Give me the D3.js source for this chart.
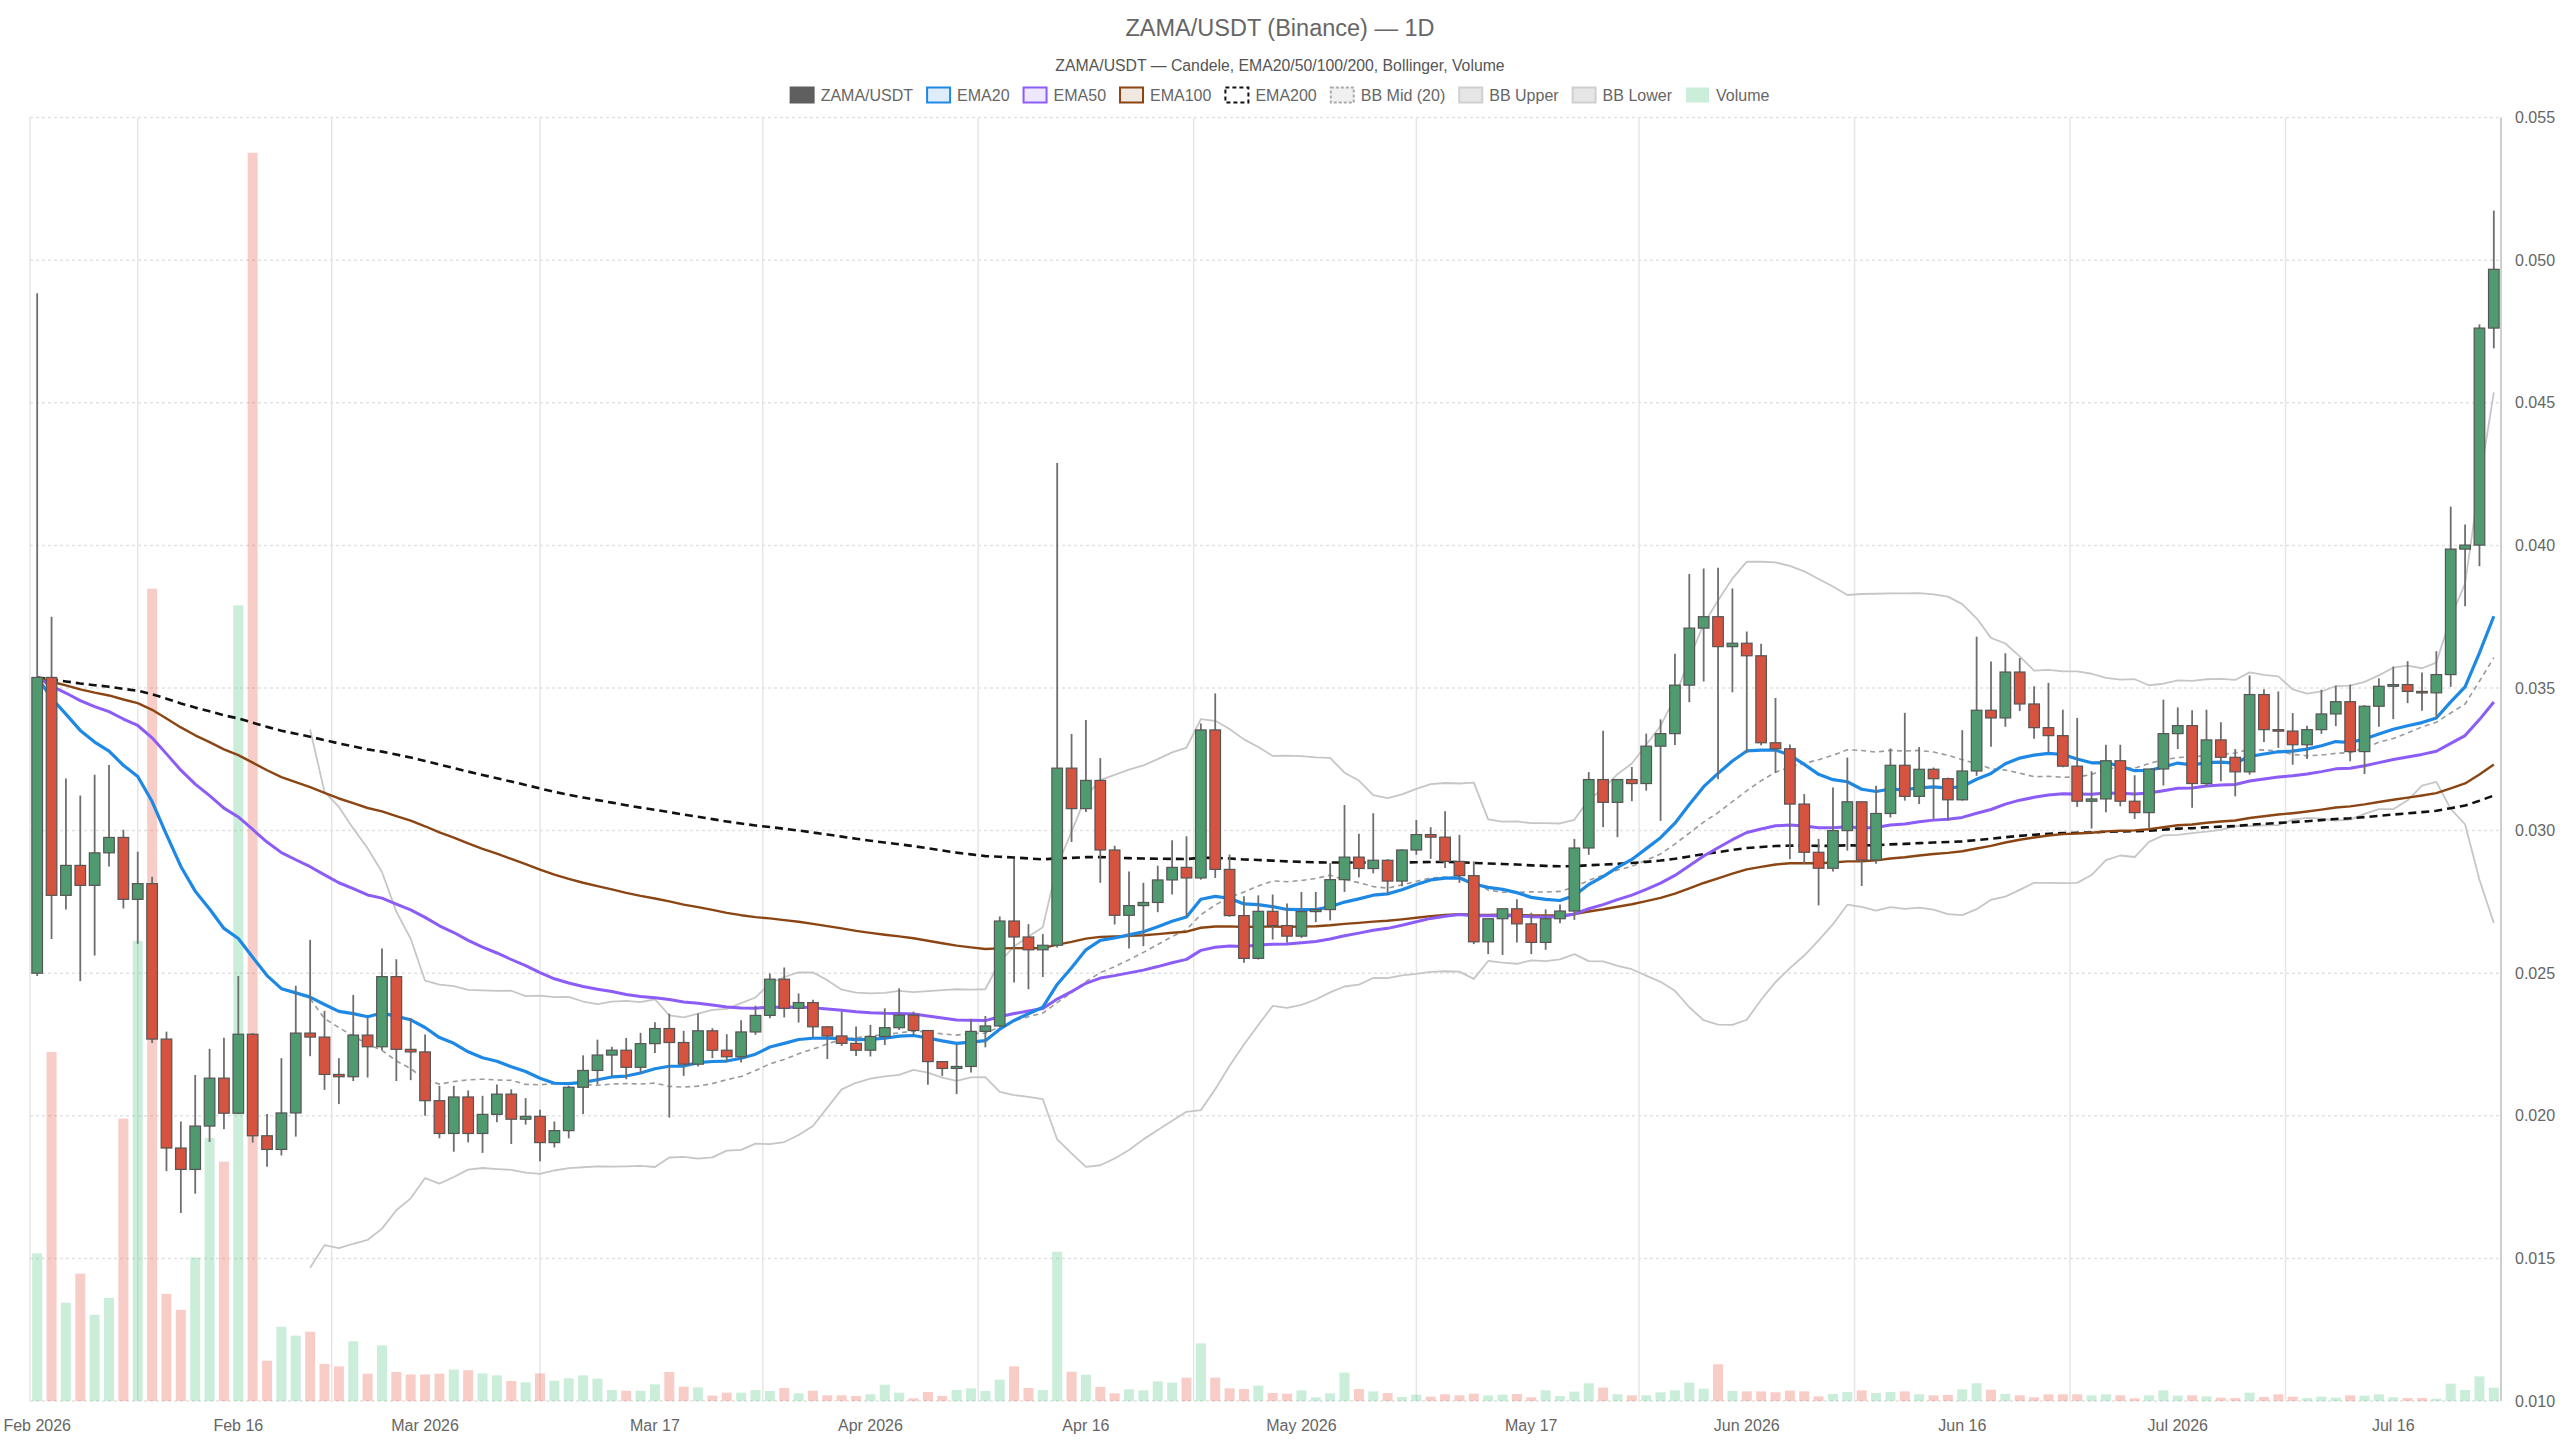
<!DOCTYPE html>
<html>
<head>
<meta charset="utf-8">
<script src="https://cdn.jsdelivr.net/npm/d3@7"></script>
<style>
    body { margin: 0; background: #fff; }
    svg { display: block; font-family: "Liberation Sans", Arial, sans-serif; }
</style>
</head>
<body>
<script>
// daily candles starting 2026-02-02, rows are [open, high, low, close]
const startDate = '2026-02-02';

const candles = [
    [0.02500, 0.04884, 0.02490, 0.03537], [0.03537, 0.03750, 0.02620, 0.02773],
    [0.02773, 0.03183, 0.02723, 0.02878], [0.02878, 0.03123, 0.02472, 0.02808],
    [0.02808, 0.03196, 0.02562, 0.02922], [0.02922, 0.03230, 0.02874, 0.02976],
    [0.02976, 0.03003, 0.02727, 0.02759], [0.02759, 0.02926, 0.02603, 0.02814],
    [0.02814, 0.02838, 0.02255, 0.02269], [0.02269, 0.02295, 0.01806, 0.01887],
    [0.01887, 0.01980, 0.01659, 0.01812], [0.01812, 0.02143, 0.01727, 0.01964],
    [0.01964, 0.02235, 0.01908, 0.02132], [0.02132, 0.02274, 0.01953, 0.02009],
    [0.02009, 0.02490, 0.02006, 0.02286], [0.02286, 0.02290, 0.01906, 0.01930],
    [0.01930, 0.02006, 0.01821, 0.01882], [0.01882, 0.02202, 0.01861, 0.02010],
    [0.02010, 0.02456, 0.01927, 0.02290], [0.02290, 0.02617, 0.02209, 0.02276],
    [0.02276, 0.02368, 0.02091, 0.02145], [0.02145, 0.02202, 0.02041, 0.02137],
    [0.02137, 0.02424, 0.02122, 0.02283], [0.02283, 0.02343, 0.02134, 0.02242],
    [0.02242, 0.02587, 0.02230, 0.02488], [0.02488, 0.02549, 0.02122, 0.02233],
    [0.02233, 0.02343, 0.02125, 0.02224], [0.02224, 0.02285, 0.02000, 0.02053],
    [0.02053, 0.02105, 0.01921, 0.01938], [0.01938, 0.02105, 0.01874, 0.02066],
    [0.02066, 0.02089, 0.01907, 0.01938], [0.01938, 0.02070, 0.01870, 0.02005],
    [0.02005, 0.02110, 0.01977, 0.02076], [0.02076, 0.02093, 0.01901, 0.01988],
    [0.01988, 0.02062, 0.01969, 0.01998], [0.01998, 0.02021, 0.01841, 0.01906],
    [0.01906, 0.01980, 0.01889, 0.01948], [0.01948, 0.02105, 0.01921, 0.02100],
    [0.02100, 0.02212, 0.02006, 0.02159], [0.02159, 0.02267, 0.02110, 0.02213],
    [0.02213, 0.02242, 0.02139, 0.02230], [0.02230, 0.02273, 0.02128, 0.02170],
    [0.02170, 0.02291, 0.02150, 0.02253], [0.02253, 0.02328, 0.02220, 0.02306],
    [0.02306, 0.02358, 0.01994, 0.02257], [0.02257, 0.02298, 0.02140, 0.02181],
    [0.02181, 0.02359, 0.02173, 0.02298], [0.02298, 0.02307, 0.02202, 0.02230],
    [0.02230, 0.02286, 0.02189, 0.02207], [0.02207, 0.02335, 0.02187, 0.02294],
    [0.02294, 0.02386, 0.02284, 0.02352], [0.02352, 0.02499, 0.02342, 0.02479],
    [0.02479, 0.02520, 0.02345, 0.02377], [0.02377, 0.02429, 0.02327, 0.02397],
    [0.02397, 0.02407, 0.02275, 0.02312], [0.02312, 0.02315, 0.02199, 0.02280],
    [0.02280, 0.02365, 0.02245, 0.02254], [0.02254, 0.02313, 0.02210, 0.02230],
    [0.02230, 0.02319, 0.02208, 0.02278], [0.02278, 0.02377, 0.02248, 0.02309],
    [0.02309, 0.02447, 0.02301, 0.02353], [0.02353, 0.02365, 0.02283, 0.02299],
    [0.02299, 0.02301, 0.02109, 0.02190], [0.02190, 0.02190, 0.02140, 0.02166],
    [0.02166, 0.02249, 0.02076, 0.02173], [0.02173, 0.02339, 0.02152, 0.02296],
    [0.02296, 0.02350, 0.02240, 0.02315], [0.02315, 0.02699, 0.02310, 0.02683],
    [0.02683, 0.02900, 0.02467, 0.02627], [0.02627, 0.02672, 0.02444, 0.02582],
    [0.02582, 0.02637, 0.02487, 0.02598], [0.02598, 0.04289, 0.02590, 0.03219],
    [0.03219, 0.03339, 0.02960, 0.03077], [0.03077, 0.03388, 0.03065, 0.03176],
    [0.03176, 0.03254, 0.02817, 0.02932], [0.02932, 0.02947, 0.02671, 0.02703],
    [0.02703, 0.02857, 0.02587, 0.02737], [0.02737, 0.02817, 0.02595, 0.02748],
    [0.02748, 0.02877, 0.02714, 0.02827], [0.02827, 0.02966, 0.02776, 0.02871],
    [0.02871, 0.02980, 0.02700, 0.02834], [0.02834, 0.03376, 0.02828, 0.03353],
    [0.03353, 0.03481, 0.02834, 0.02864], [0.02864, 0.02916, 0.02698, 0.02702],
    [0.02702, 0.02770, 0.02537, 0.02552], [0.02552, 0.02773, 0.02548, 0.02717],
    [0.02717, 0.02776, 0.02618, 0.02667], [0.02667, 0.02744, 0.02607, 0.02630],
    [0.02630, 0.02785, 0.02624, 0.02716], [0.02716, 0.02785, 0.02679, 0.02723],
    [0.02723, 0.02886, 0.02685, 0.02828], [0.02828, 0.03090, 0.02785, 0.02907],
    [0.02907, 0.02989, 0.02836, 0.02867], [0.02867, 0.03061, 0.02850, 0.02896],
    [0.02896, 0.02900, 0.02776, 0.02823], [0.02823, 0.02935, 0.02805, 0.02932],
    [0.02932, 0.03037, 0.02915, 0.02986], [0.02986, 0.03012, 0.02901, 0.02977],
    [0.02977, 0.03068, 0.02869, 0.02892], [0.02892, 0.02985, 0.02817, 0.02842],
    [0.02842, 0.02892, 0.02602, 0.02610], [0.02610, 0.02691, 0.02567, 0.02691],
    [0.02691, 0.02726, 0.02564, 0.02726], [0.02726, 0.02759, 0.02608, 0.02673],
    [0.02673, 0.02712, 0.02567, 0.02608], [0.02608, 0.02724, 0.02582, 0.02691],
    [0.02691, 0.02741, 0.02675, 0.02718], [0.02718, 0.02971, 0.02687, 0.02939],
    [0.02939, 0.03205, 0.02915, 0.03179], [0.03179, 0.03350, 0.03012, 0.03099],
    [0.03099, 0.03180, 0.02977, 0.03179], [0.03179, 0.03223, 0.03103, 0.03165],
    [0.03165, 0.03340, 0.03140, 0.03296], [0.03296, 0.03390, 0.03034, 0.03340],
    [0.03340, 0.03620, 0.03300, 0.03510], [0.03510, 0.03900, 0.03450, 0.03710],
    [0.03710, 0.03919, 0.03523, 0.03750], [0.03750, 0.03922, 0.03180, 0.03645],
    [0.03645, 0.03849, 0.03485, 0.03657], [0.03657, 0.03698, 0.03273, 0.03613],
    [0.03613, 0.03655, 0.03299, 0.03308], [0.03308, 0.03465, 0.03203, 0.03287],
    [0.03287, 0.03302, 0.02900, 0.03093], [0.03093, 0.03128, 0.02884, 0.02924],
    [0.02924, 0.02971, 0.02738, 0.02868], [0.02868, 0.03151, 0.02857, 0.03000],
    [0.03000, 0.03256, 0.02930, 0.03101], [0.03101, 0.03101, 0.02806, 0.02897],
    [0.02897, 0.03157, 0.02884, 0.03060], [0.03060, 0.03288, 0.03046, 0.03229],
    [0.03229, 0.03413, 0.03105, 0.03120], [0.03120, 0.03293, 0.03093, 0.03215],
    [0.03215, 0.03221, 0.03041, 0.03182], [0.03182, 0.03186, 0.03035, 0.03108],
    [0.03108, 0.03352, 0.03105, 0.03209], [0.03209, 0.03680, 0.03192, 0.03422],
    [0.03422, 0.03593, 0.03294, 0.03395], [0.03395, 0.03622, 0.03364, 0.03556],
    [0.03556, 0.03605, 0.03419, 0.03444], [0.03444, 0.03506, 0.03322, 0.03361],
    [0.03361, 0.03518, 0.03275, 0.03333], [0.03333, 0.03424, 0.03222, 0.03226],
    [0.03226, 0.03395, 0.03083, 0.03103], [0.03103, 0.03208, 0.03007, 0.03111],
    [0.03111, 0.03301, 0.03064, 0.03245], [0.03245, 0.03301, 0.03085, 0.03103],
    [0.03103, 0.03194, 0.03041, 0.03063], [0.03063, 0.03216, 0.03007, 0.03216],
    [0.03216, 0.03459, 0.03158, 0.03340], [0.03340, 0.03432, 0.03286, 0.03368],
    [0.03368, 0.03422, 0.03080, 0.03165], [0.03165, 0.03424, 0.03155, 0.03318],
    [0.03318, 0.03380, 0.03173, 0.03257], [0.03257, 0.03286, 0.03120, 0.03206],
    [0.03206, 0.03544, 0.03196, 0.03477], [0.03477, 0.03496, 0.03311, 0.03354],
    [0.03354, 0.03488, 0.03290, 0.03349], [0.03349, 0.03412, 0.03231, 0.03301],
    [0.03301, 0.03368, 0.03251, 0.03354], [0.03354, 0.03494, 0.03339, 0.03409],
    [0.03409, 0.03508, 0.03366, 0.03452], [0.03452, 0.03512, 0.03243, 0.03277],
    [0.03277, 0.03440, 0.03198, 0.03436], [0.03436, 0.03534, 0.03364, 0.03506],
    [0.03506, 0.03575, 0.03391, 0.03512], [0.03512, 0.03594, 0.03447, 0.03488],
    [0.03488, 0.03554, 0.03420, 0.03483], [0.03483, 0.03629, 0.03396, 0.03547],
    [0.03547, 0.04136, 0.03504, 0.03987], [0.03987, 0.04073, 0.03787, 0.04001],
    [0.04001, 0.04775, 0.03927, 0.04762], [0.04762, 0.05174, 0.04691, 0.04968]
];

// volume, relative units (1000 = full plot height)
const volumes = [
    115, 272, 76.6, 99.2, 67.2, 80.4, 220, 358.5, 633, 83.5,
    71, 111.8, 205, 186.5, 620, 972.6, 31.4, 57.8, 50.9, 54,
    28.9, 27, 46.5, 21.3, 43.3, 22.6, 20.7, 20.7, 21.3, 24.5,
    24, 21.5, 20, 15.6, 14.5, 21.5, 15.8, 17.7, 20, 17.4,
    8.6, 8, 8, 13, 22.6, 11.2, 10.6, 4.2, 6.5, 6.5,
    8.6, 7.8, 10.1, 6, 8, 4.4, 4.4, 3.9, 5.2, 12.7,
    6.5, 2.1, 7, 3.9, 8.6, 9.9, 7.8, 16.6, 27, 10.1,
    8.6, 116.3, 22.8, 20.5, 10.9, 6, 9.1, 8.3, 15.3, 14.3,
    18.2, 44.9, 18.2, 9.9, 9.3, 11.9, 6.2, 5.7, 8.3, 2.9,
    6, 22.1, 9.3, 7.5, 6.2, 3.1, 4.9, 3.4, 5.2, 4.4,
    5.7, 4.3, 4.9, 5.5, 2.9, 8.3, 3.9, 7.3, 13.8, 10.4,
    5.2, 4.4, 4.4, 6.8, 8.3, 14.3, 9.6, 28.6, 7.8, 7.5,
    7.5, 6.8, 8.1, 7.5, 3.6, 5.5, 7, 8.3, 6.2, 7,
    7.5, 5.2, 4.4, 4.7, 9.1, 13.8, 8.8, 5.5, 4.4, 2.9,
    5.2, 5.2, 5.2, 4.4, 5.2, 4.4, 2.1, 4.4, 8.3, 4.2,
    4.4, 3.6, 2.6, 2.3, 6.5, 3.1, 5.2, 3.4, 2.3, 3.4,
    2.6, 4.4, 4.2, 5.2, 2.9, 2.3, 2.3, 1.8, 13.5, 8.6,
    19.2, 10.4
];

const tickDates = ['2026-02-02', '2026-02-16', '2026-03-01', '2026-03-17',
                   '2026-04-01', '2026-04-16', '2026-05-01', '2026-05-17',
                   '2026-06-01', '2026-06-16', '2026-07-01', '2026-07-16'];
const tickLabels = ['Feb 2026', 'Feb 16', 'Mar 2026', 'Mar 17', 'Apr 2026', 'Apr 16',
                    'May 2026', 'May 17', 'Jun 2026', 'Jun 16', 'Jul 2026', 'Jul 16'];
const priceTicks = [0.010, 0.015, 0.020, 0.025, 0.030, 0.035, 0.040, 0.045, 0.050, 0.055];

const UP = '#4f9b6f';
const DOWN = '#d6543f';

const legendItems = [
    { label: 'ZAMA/USDT', fill: '#5f5f5f', stroke: '#5f5f5f' },
    { label: 'EMA20', fill: 'rgba(30,136,229,0.15)', stroke: '#1e88e5' },
    { label: 'EMA50', fill: 'rgba(139,92,246,0.15)', stroke: '#8b5cf6' },
    { label: 'EMA100', fill: 'rgba(139,69,19,0.12)', stroke: '#8b4513' },
    { label: 'EMA200', fill: '#ffffff', stroke: '#111', dash: '4,3' },
    { label: 'BB Mid (20)', fill: '#f0f0f0', stroke: '#aaa', dash: '3,2' },
    { label: 'BB Upper', fill: '#e6e6e6', stroke: '#d0d0d0' },
    { label: 'BB Lower', fill: '#e6e6e6', stroke: '#d0d0d0' },
    { label: 'Volume', fill: 'rgba(80,200,130,0.3)', stroke: 'none' }
];

const ema = (values, n) => {
    const k = 2 / (n + 1);
    let prev;
    return values.map((v, i) => (prev = i === 0 ? v : v * k + prev * (1 - k)));
};

const bollinger = (values, n, mult) => values.map((v, i) => {
    if (i < n - 1) return null;
    const win = values.slice(i - n + 1, i + 1);
    const mean = d3.mean(win);
    const sd = Math.sqrt(d3.mean(win, w => (w - mean) * (w - mean)));
    return { mid: mean, upper: mean + mult * sd, lower: mean - mult * sd };
});

window.onload = () => {
    const width = 2560;
    const height = 1440;
    const left = 30, right = 2501, top = 117.6, bottom = 1401;

    const svg = d3.select('body')
                  .append('svg')
                  .attr('width', width)
                  .attr('height', height)
                  .style('background', '#fff');

    const parse = d3.utcParse('%Y-%m-%d');
    const start = parse(startDate);
    const n = candles.length;

    const x = d3.scaleBand()
                .domain(d3.range(n))
                .range([left, right])
                .padding(0);
    const cx = i => x(i) + x.bandwidth() / 2;

    const y = d3.scaleLinear().domain([0.010, 0.055]).range([bottom, top]);
    const yVol = d3.scaleLinear().domain([0, 1000]).range([bottom, top]);

    const tickIdx = tickDates.map(d => d3.utcDay.count(start, parse(d)));

    // grid
    const grid = svg.append('g');
    const vLines = [left].concat(d3.pairs(tickIdx).map(([a, b]) => (cx(a) + cx(b)) / 2));
    grid.selectAll('.vgrid')
        .data(vLines)
        .enter()
        .append('line')
        .attr('x1', d => d).attr('x2', d => d)
        .attr('y1', top).attr('y2', bottom)
        .style('stroke', '#e6e6e6')
        .style('stroke-width', '1.5px');

    grid.selectAll('.hgrid')
        .data(priceTicks)
        .enter()
        .append('line')
        .attr('x1', left).attr('x2', right)
        .attr('y1', d => y(d)).attr('y2', d => y(d))
        .style('stroke', '#e2e2e2')
        .style('stroke-width', '1.5px')
        .style('stroke-dasharray', '3,3');

    // volume
    svg.append('g')
       .selectAll('rect')
       .data(volumes)
       .enter()
       .append('rect')
       .attr('x', (d, i) => cx(i) - 5)
       .attr('width', 10)
       .attr('y', d => yVol(d))
       .attr('height', d => bottom - yVol(d))
       .style('fill', (d, i) => candles[i][3] >= candles[i][0]
              ? 'rgba(80,200,130,0.3)' : 'rgba(235,90,70,0.3)');

    // indicators
    const closes = candles.map(c => c[3]);
    const bb = bollinger(closes, 20, 2);

    const line = d3.line()
                   .defined(d => d[1] != null)
                   .x(d => cx(d[0]))
                   .y(d => y(d[1]));

    const series = (values, stroke, w, dash) => {
        svg.append('path')
           .attr('d', line(values.map((v, i) => [i, v])))
           .style('fill', 'none')
           .style('stroke', stroke)
           .style('stroke-width', w + 'px')
           .style('stroke-dasharray', dash || null)
           .style('stroke-linejoin', 'round');
    };

    series(bb.map(b => b && b.lower), '#c6c6c6', 1.8);
    series(bb.map(b => b && b.upper), '#c6c6c6', 1.8);
    series(bb.map(b => b && b.mid), '#9a9a9a', 1.6, '5,4');
    series(ema(closes, 200), '#111', 2.6, '8,5');
    series(ema(closes, 100), '#8b4513', 2.4);
    series(ema(closes, 50), '#8b5cf6', 3);
    series(ema(closes, 20), '#1e88e5', 3.2);

    // candles
    const cg = svg.append('g')
                  .selectAll('g')
                  .data(candles)
                  .enter()
                  .append('g');

    cg.append('line')
      .attr('x1', (d, i) => cx(i)).attr('x2', (d, i) => cx(i))
      .attr('y1', d => y(d[1])).attr('y2', d => y(d[2]))
      .style('stroke', '#6e6e6e')
      .style('stroke-width', '1.8px');

    cg.append('rect')
      .attr('x', (d, i) => cx(i) - 5.3)
      .attr('width', 10.6)
      .attr('y', d => y(Math.max(d[0], d[3])))
      .attr('height', d => Math.max(1.5, Math.abs(y(d[0]) - y(d[3]))))
      .style('fill', d => d[3] >= d[0] ? UP : DOWN)
      .style('stroke', '#555')
      .style('stroke-width', '1.2px');

    // right axis
    svg.append('line')
       .attr('x1', right).attr('x2', right)
       .attr('y1', top).attr('y2', bottom)
       .style('stroke', '#cfcfcf')
       .style('stroke-width', '2px');

    const yAxis = svg.append('g')
                     .attr('transform', `translate(${right},0)`)
                     .call(d3.axisRight(y)
                             .tickValues(priceTicks)
                             .tickFormat(d3.format('.3f'))
                             .tickSize(0)
                             .tickPadding(14));
    yAxis.select('.domain').remove();
    yAxis.selectAll('text')
         .style('font-size', '16px')
         .style('fill', '#666')
         .style('font-family', '"Liberation Sans", Arial, sans-serif');

    const xAxis = svg.append('g')
                     .attr('transform', `translate(0,${bottom})`)
                     .call(d3.axisBottom(x)
                             .tickValues(tickIdx)
                             .tickFormat((d, i) => tickLabels[i])
                             .tickSize(0)
                             .tickPadding(19));
    xAxis.select('.domain').remove();
    xAxis.selectAll('text')
         .style('font-size', '16px')
         .style('fill', '#666')
         .style('font-family', '"Liberation Sans", Arial, sans-serif');

    // titles
    svg.append('text')
       .text('ZAMA/USDT (Binance) — 1D')
       .attr('x', width / 2).attr('y', 36)
       .attr('text-anchor', 'middle')
       .style('font-size', '23.5px')
       .style('fill', '#666');

    svg.append('text')
       .text('ZAMA/USDT — Candele, EMA20/50/100/200, Bollinger, Volume')
       .attr('x', width / 2).attr('y', 71)
       .attr('text-anchor', 'middle')
       .style('font-size', '15.8px')
       .style('fill', '#555');

    appendLegend(svg, legendItems, width / 2, 95);
};

const appendLegend = (selection, items, centerX, midY) => {
    const boxW = 23, boxH = 15, gap = 7, itemGap = 14;
    const lg = selection.append('g');

    const groups = lg.selectAll('g')
                     .data(items)
                     .enter()
                     .append('g');

    groups.append('rect')
          .attr('width', boxW).attr('height', boxH)
          .attr('y', midY - boxH / 2)
          .style('fill', d => d.fill)
          .style('stroke', d => d.stroke)
          .style('stroke-width', '2px')
          .style('stroke-dasharray', d => d.dash || null);

    groups.append('text')
          .text(d => d.label)
          .attr('x', boxW + gap)
          .attr('y', midY + 5.6)
          .style('font-size', '16px')
          .style('fill', '#666');

    let pos = 0;
    const offsets = [];
    groups.each(function () {
        offsets.push(pos);
        pos += boxW + gap + d3.select(this).select('text').node().getComputedTextLength() + itemGap;
    });
    const total = pos - itemGap;
    groups.attr('transform', (d, i) => `translate(${centerX - total / 2 + offsets[i]},0)`);
};
</script>
</body>
</html>
